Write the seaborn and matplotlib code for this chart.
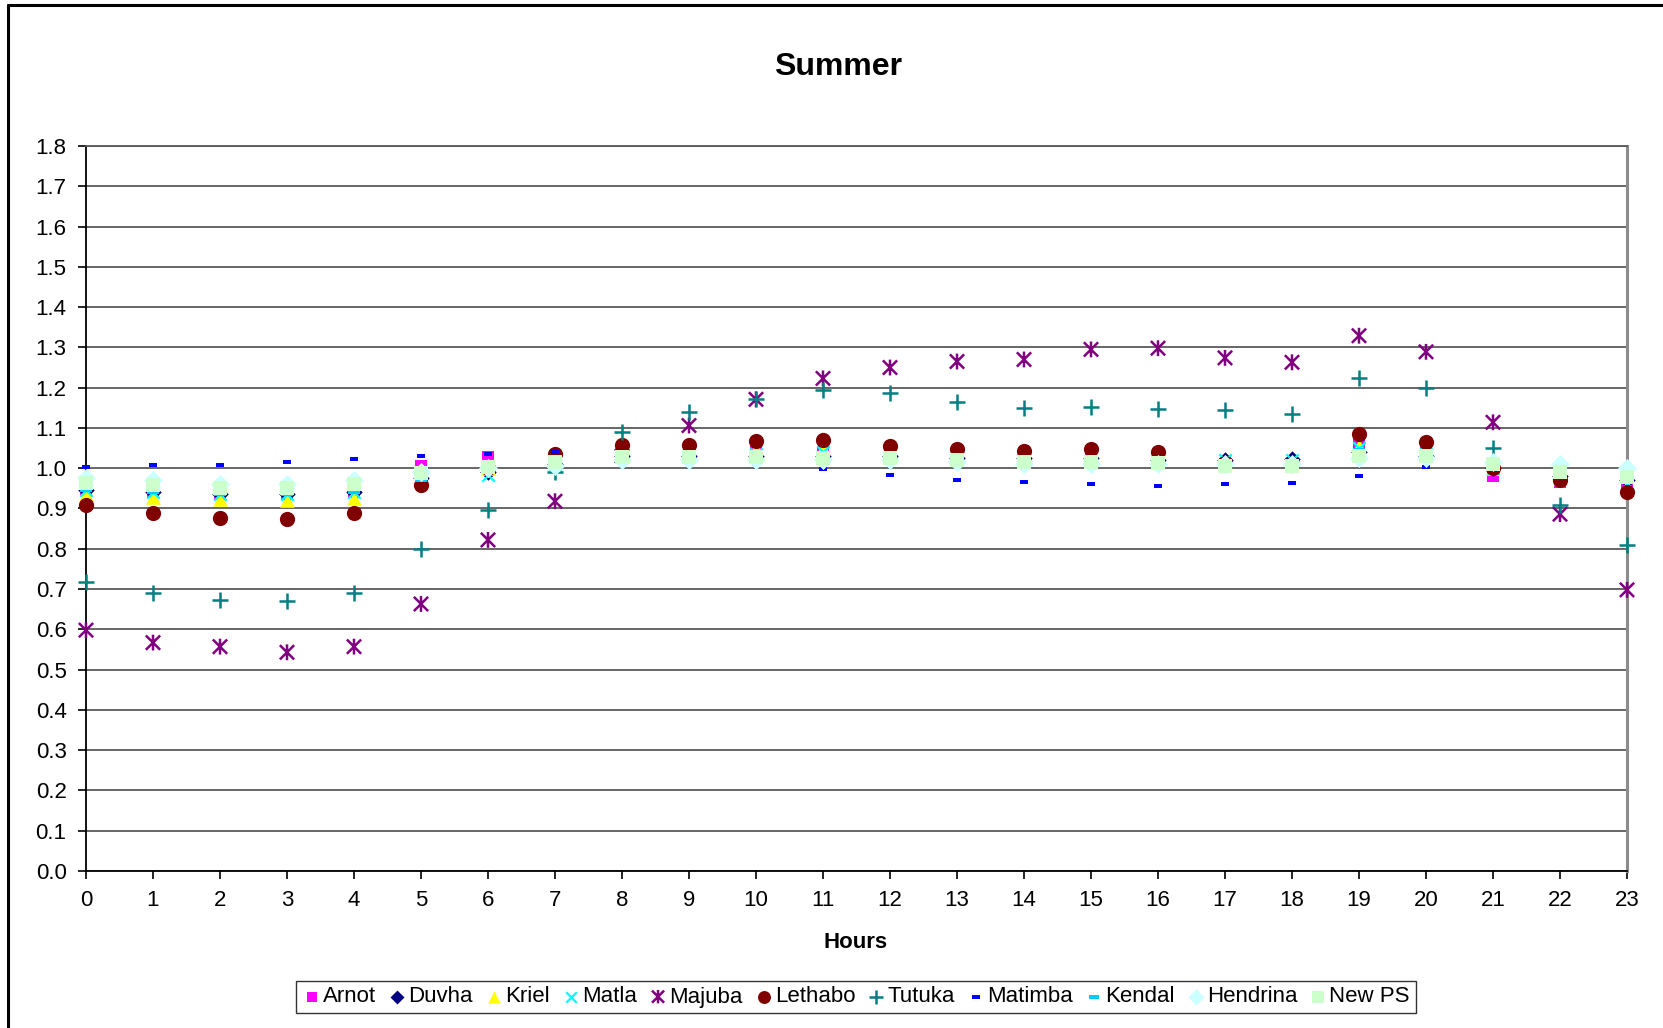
import numpy as np
import pandas as pd
import seaborn as sns
import matplotlib.pyplot as plt
from matplotlib.path import Path
from matplotlib.markers import MarkerStyle
from matplotlib.lines import Line2D
from matplotlib.ticker import FormatStrFormatter

sns.set_theme(style="ticks")
plt.rcParams['font.family'] = ['Liberation Sans', 'DejaVu Sans']
plt.rcParams['text.color'] = 'black'

# ---- data: hourly load factor per power station (summer) ----
hours = list(range(24))

arnot = [0.945, 0.94, 0.935, 0.935, 0.94, 1.005, 1.029, 1.03, 1.04, 1.035, 1.04, 1.04,
         1.035, 1.03, 1.03, 1.035, 1.03, 1.01, 1.01, 1.062, 1.04, 0.981, 0.965, 0.96]
duvha = [0.945, 0.94, 0.935, 0.935, 0.94, 0.975, 0.99, 1.01, 1.03, 1.03, 1.03, 1.03,
         1.03, 1.025, 1.025, 1.025, 1.02, 1.02, 1.023, 1.04, 1.03, 1.0, 0.98, 0.97]
kriel = [0.935, 0.929, 0.923, 0.922, 0.927, 0.97, 1.0, 1.02, 1.04, 1.04, 1.05, 1.05,
         1.04, 1.035, 1.035, 1.04, 1.03, 1.015, 1.01, 1.055, 1.045, 1.0, 0.975, 0.955]
matla = [0.945, 0.94, 0.935, 0.935, 0.94, 0.975, 0.983, 1.01, 1.03, 1.03, 1.035, 1.04,
         1.035, 1.03, 1.03, 1.035, 1.03, 1.02, 1.02, 1.05, 1.035, 1.0, 0.975, 0.96]
majuba = [0.598, 0.567, 0.557, 0.543, 0.557, 0.663, 0.822, 0.918, 1.03, 1.106, 1.171, 1.223,
          1.250, 1.265, 1.270, 1.295, 1.298, 1.274, 1.263, 1.329, 1.289, 1.114, 0.886, 0.698]
lethabo = [0.909, 0.888, 0.877, 0.874, 0.890, 0.958, 1.0, 1.035, 1.058, 1.058, 1.067, 1.070,
           1.056, 1.047, 1.043, 1.048, 1.041, 1.012, 1.01, 1.085, 1.066, 1.0, 0.971, 0.941]
tutuka = [0.717, 0.691, 0.674, 0.670, 0.691, 0.799, 0.896, 0.991, 1.091, 1.139, 1.171, 1.194,
          1.187, 1.165, 1.149, 1.153, 1.147, 1.145, 1.134, 1.225, 1.198, 1.051, 0.909, 0.809]
matimba = [1.004, 1.008, 1.008, 1.016, 1.023, 1.030, 1.035, 1.040, 1.04, 1.02, 1.01, 0.997,
           0.982, 0.971, 0.965, 0.962, 0.957, 0.961, 0.963, 0.981, 1.004, 0.995, 0.99, 1.004]
kendal = [0.945, 0.94, 0.935, 0.935, 0.94, 0.971, 0.99, 1.01, 1.03, 1.03, 1.03, 1.03,
          1.03, 1.025, 1.025, 1.025, 1.02, 1.015, 1.015, 1.045, 1.035, 1.0, 0.98, 0.97]
hendrina = [0.975, 0.97, 0.96, 0.96, 0.97, 0.99, 1.0, 1.005, 1.02, 1.02, 1.02, 1.02,
            1.02, 1.015, 1.01, 1.01, 1.01, 1.01, 1.01, 1.025, 1.025, 1.015, 1.01, 1.0]
new_ps = [0.964, 0.958, 0.950, 0.950, 0.962, 0.989, 1.004, 1.016, 1.029, 1.029, 1.029, 1.025,
          1.025, 1.02, 1.015, 1.015, 1.012, 1.005, 1.005, 1.03, 1.03, 1.01, 0.991, 0.979]

station_names = ["Arnot", "Duvha", "Kriel", "Matla", "Majuba", "Lethabo",
                 "Tutuka", "Matimba", "Kendal", "Hendrina", "New PS"]
station_values = [arnot, duvha, kriel, matla, majuba, lethabo,
                  tutuka, matimba, kendal, hendrina, new_ps]

# ---- marker shapes ----
M, L = Path.MOVETO, Path.LINETO
asterisk = MarkerStyle(Path([(-0.9, -0.9), (0.9, 0.9), (-0.9, 0.9), (0.9, -0.9),
                             (0, -1.0), (0, 1.0)], [M, L, M, L, M, L]),
                       fillstyle='none')
short_dash = Path([(-1, -0.5), (1, -0.5), (1, 0.5), (-1, 0.5), (-1, -0.5)],
                  [M, L, L, L, Path.CLOSEPOLY])
long_dash = Path([(-1, -0.3), (1, -0.3), (1, 0.3), (-1, 0.3), (-1, -0.3)],
                 [M, L, L, L, Path.CLOSEPOLY])

styles = {
    "Arnot":    dict(color="#FF00FF", marker="s", s=85),
    "Duvha":    dict(color="#000080", marker="D", s=70),
    "Kriel":    dict(color="#FFFF00", marker="^", s=110),
    "Matla":    dict(color="#00FFFF", marker="x", s=80, linewidth=1.6),
    "Majuba":   dict(color="#800080", marker=asterisk, s=130, linewidth=1.8),
    "Lethabo":  dict(color="#800000", marker="o", s=120),
    "Tutuka":   dict(color="#008080", marker="+", s=130, linewidth=1.8),
    "Matimba":  dict(color="#0000FF", marker=short_dash, s=40),
    "Kendal":   dict(color="#00CCFF", marker=long_dash, s=80),
    "Hendrina": dict(color="#CCFFFF", marker="D", s=95),
    "New PS":   dict(color="#CCFFCC", marker="s", s=110),
}

W, H = 1663, 1028
fig = plt.figure(figsize=(W / 100, H / 100), dpi=100)
fig.patch.set_facecolor("white")

x0, x1, yt, yb = 86, 1627, 146, 871
ax = fig.add_axes([x0 / W, 1 - yb / H, (x1 - x0) / W, (yb - yt) / H])

for name, vals in zip(station_names, station_values):
    df = pd.DataFrame({"Hours": hours, "Value": vals})
    st = dict(styles[name])
    filled = not isinstance(st["marker"], MarkerStyle) and st["marker"] not in ("x", "+")
    kw = {}
    if filled:
        kw["edgecolor"] = st["color"]
        kw["linewidth"] = 0
    sns.scatterplot(data=df, x="Hours", y="Value", ax=ax, legend=False,
                    label=name, clip_on=False, zorder=3, **st, **kw)

ax.set_xlim(0, 23)
ax.set_ylim(0, 1.8)
ax.set_xticks(hours)
ax.set_yticks(np.round(np.arange(0, 1.81, 0.1), 1))
ax.yaxis.set_major_formatter(FormatStrFormatter("%.1f"))
ax.yaxis.grid(True, color="#5a5a5a", linewidth=1.3)
ax.set_axisbelow(True)

for side in ("left", "bottom"):
    ax.spines[side].set_color("black")
    ax.spines[side].set_linewidth(1.3)
ax.spines["right"].set_color("#8c8c8c")
ax.spines["right"].set_linewidth(2.2)
ax.spines["top"].set_color("#5a5a5a")
ax.spines["top"].set_linewidth(1.3)

ax.tick_params(axis="both", direction="out", length=6, width=1.2, color="black",
               labelsize=16, labelcolor="black")
ax.tick_params(axis="x", pad=8)
ax.tick_params(axis="y", pad=8)
ax.set_xlabel("")
ax.set_ylabel("")

fig.text(838 / W, 1 - 75 / H, "Summer", ha="center", va="baseline",
         fontsize=23, fontweight="bold", color="black")
fig.text(856 / W, 1 - 948 / H, "Hours", ha="center", va="baseline",
         fontsize=16, fontweight="bold", color="black")

handles, labels = ax.get_legend_handles_labels()
leg = ax.legend(handles, labels, ncol=11, loc="center",
                bbox_to_anchor=(856 / W, 1 - 997 / H), bbox_transform=fig.transFigure,
                frameon=True, fancybox=False, edgecolor="black", fontsize=16,
                handletextpad=0.05, columnspacing=0.5, borderpad=0.25,
                handlelength=0.9, markerscale=0.85, borderaxespad=0)
leg.get_frame().set_linewidth(1.0)
for t in leg.get_texts():
    t.set_color("black")

# outer chart frame (left and top edges)
fig.add_artist(Line2D([8 / W, 8 / W], [0, 1 - 5 / H], transform=fig.transFigure,
                      color="black", linewidth=2.2))
fig.add_artist(Line2D([8 / W, 1], [1 - 5 / H, 1 - 5 / H], transform=fig.transFigure,
                      color="black", linewidth=2.2))

fig.savefig("out.png", dpi=100, facecolor="white")
